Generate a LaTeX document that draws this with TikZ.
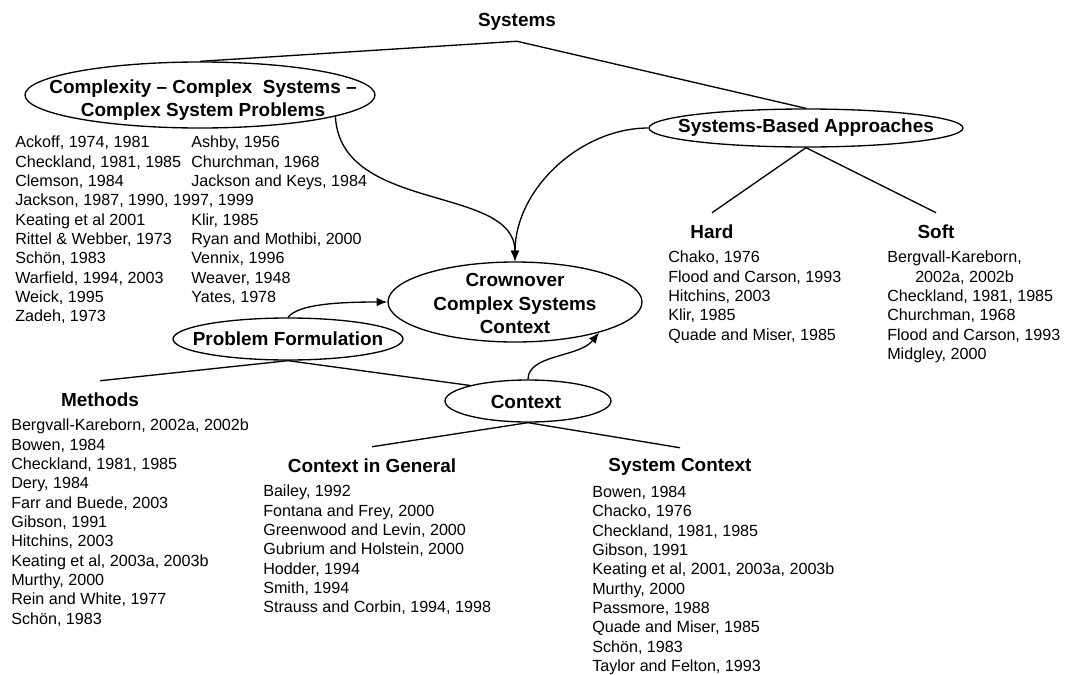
\documentclass[tikz,border=0pt]{standalone}
\usepackage{fontspec}
\setmainfont{Liberation Sans}
\usetikzlibrary{shapes.geometric,arrows.meta}
\begin{document}
\begin{tikzpicture}[x=0.75pt,y=-0.75pt,
  oval/.style={ellipse,draw,line width=1pt,inner sep=0pt},
  ovaltext/.style={font=\fontsize{14.2pt}{17.8pt}\selectfont\bfseries,align=center,inner sep=0pt},
  head/.style={font=\fontsize{14.2pt}{17pt}\selectfont\bfseries,inner sep=0pt,minimum height=28.5pt},
  refs/.style={font=\fontsize{12.1pt}{14.5pt}\selectfont,align=left,anchor=north west,inner sep=0pt},
  link/.style={line width=1pt},
  flow/.style={line width=1pt,-{Latex[length=8pt,width=6.5pt]}}]
\useasboundingbox (0,0) rectangle (1065,675);

% ---- ovals ----
\node[oval,minimum width=262.5pt,minimum height=49.5pt] (cplx) at (200,95) {};
\node[ovaltext] (cplx-t) at (203,100) {Complexity \textendash\ Complex\ \ Systems \textendash\\Complex System Problems};

\node[oval,minimum width=235.5pt,minimum height=28.5pt] (sba) at (806,128) {};
\node[ovaltext] (sba-t) at (806,128) {Systems-Based Approaches};

\node[oval,minimum width=190.5pt,minimum height=60pt] (crown) at (515,302) {};
\node[ovaltext] (crown-t) at (515,303.5) {Crownover\\Complex Systems\\Context};

\node[oval,minimum width=172.5pt,minimum height=31.5pt] (pf) at (288,339) {};
\node[ovaltext] (pf-t) at (288,339) {Problem Formulation};

\node[oval,minimum width=124.5pt,minimum height=31.5pt] (ctx) at (528,401) {};
\node[ovaltext] (ctx-t) at (526,402) {Context};

% ---- headings ----
\node[head] (sys) at (517,22) {Systems};
\node[head] (hard) at (712,232) {Hard};
\node[head] (soft) at (936,232) {Soft};
\node[head] (meth) at (100,400) {Methods};
\node[head] (cig) at (372,466) {Context in General};
\node[head] (syc) at (680,467) {System Context};

% ---- reference lists ----
\node[refs] (cplx-a) at (15,136) {Ackoff, 1974, 1981\\Checkland, 1981, 1985\\Clemson, 1984\\Jackson, 1987, 1990, 1997, 1999\\Keating et al 2001\\Rittel \& Webber, 1973\\Sch\"on, 1983\\Warfield, 1994, 2003\\Weick, 1995\\Zadeh, 1973};
\node[refs] (cplx-b) at (191,136) {Ashby, 1956\\Churchman, 1968\\Jackson and Keys, 1984\\[14.5pt]Klir, 1985\\Ryan and Mothibi, 2000\\Vennix, 1996\\Weaver, 1948\\Yates, 1978};

\node[refs] (hard-l) at (668,251) {Chako, 1976\\Flood and Carson, 1993\\Hitchins, 2003\\Klir, 1985\\Quade and Miser, 1985};
\node[refs] (soft-l) at (887,251) {Bergvall-Kareborn,\\\hspace*{21pt}2002a, 2002b\\Checkland, 1981, 1985\\Churchman, 1968\\Flood and Carson, 1993\\Midgley, 2000};

\node[refs] (meth-l) at (11,419) {Bergvall-Kareborn, 2002a, 2002b\\Bowen, 1984\\Checkland, 1981, 1985\\Dery, 1984\\Farr and Buede, 2003\\Gibson, 1991\\Hitchins, 2003\\Keating et al, 2003a, 2003b\\Murthy, 2000\\Rein and White, 1977\\Sch\"on, 1983};

\node[refs] (cig-l) at (263,485) {Bailey, 1992\\Fontana and Frey, 2000\\Greenwood and Levin, 2000\\Gubrium and Holstein, 2000\\Hodder, 1994\\Smith, 1994\\Strauss and Corbin, 1994, 1998};

\node[refs] (syc-l) at (592,486) {Bowen, 1984\\Chacko, 1976\\Checkland, 1981, 1985\\Gibson, 1991\\Keating et al, 2001, 2003a, 2003b\\Murthy, 2000\\Passmore, 1988\\Quade and Miser, 1985\\Sch\"on, 1983\\Taylor and Felton, 1993};

% ---- tree branches ----
\draw[link] (cplx.north) -- (sys.south) -- (sba.north);
\draw[link] (hard.north) -- (sba.south) -- (soft.north);
\draw[link] (meth.north) -- (pf.south) -- (ctx.165);
\draw[link] (cig.north) -- (ctx.south) -- (syc.north);

% ---- arrows into the central oval ----
\draw[flow] (cplx.-9) .. controls +(5,97) and +(0,-77) .. (crown.north);
\draw[flow] (sba.west) .. controls +(-68,0) and +(0,-72) .. (crown.north);
\draw[flow] (pf.north) .. controls +(10,-13) and +(-50,0) .. (crown.west);
\draw[flow] (ctx.north) .. controls +(0,-25) and +(-20,25) .. (crown.-20);
\end{tikzpicture}
\end{document}
